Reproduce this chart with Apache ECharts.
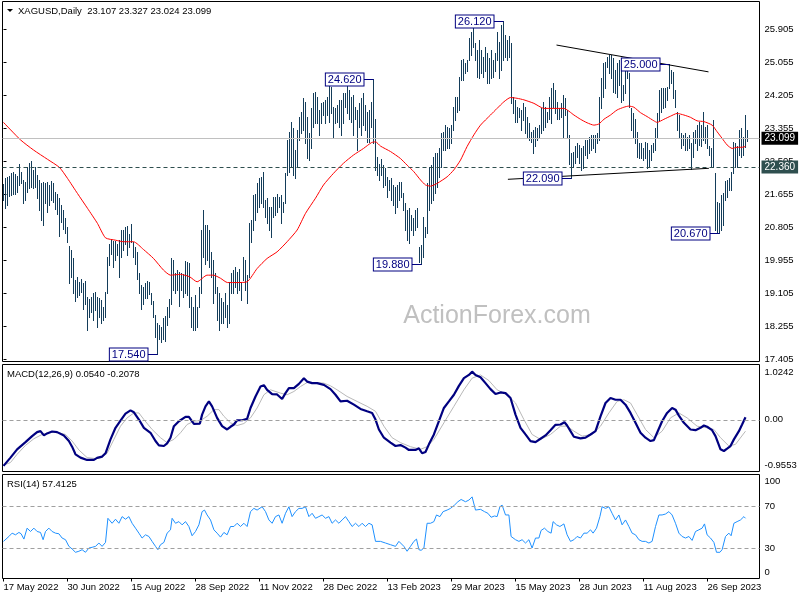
<!DOCTYPE html>
<html>
<head>
<meta charset="utf-8">
<title>XAGUSD Daily</title>
<script src="https://cdn.jsdelivr.net/npm/echarts@6/dist/echarts.min.js"></script>
<style>
  html, body { margin: 0; padding: 0; background: #fff; }
  #chart { width: 800px; height: 600px; }
</style>
</head>
<body>
<div id="chart"></div>
<script>
// daily bars, 17 May 2022 .. 23 Oct 2023 (bar index = position on the axis)
var highs = [
  21.92, 22.07, 22.10, 22.13, 22.20, 22.24, 22.18, 22.13, 22.44, 22.24,
  22.03, 21.98, 22.35, 22.46, 22.52, 22.28, 22.35, 22.16, 22.04, 21.96,
  21.98, 21.96, 21.98, 21.90, 22.01, 21.96, 21.73, 21.68, 21.56, 21.38,
  21.26, 21.04, 20.83, 20.33, 20.23, 20.01, 19.45, 19.52, 19.41, 19.47,
  19.37, 19.44, 19.03, 18.96, 19.03, 19.11, 19.15, 19.03, 18.98, 18.94,
  18.75, 19.15, 20.05, 20.38, 20.50, 20.47, 20.47, 20.38, 20.48, 20.74,
  20.74, 20.81, 20.84, 20.64, 20.89, 20.44, 20.31, 20.18, 19.64, 19.33,
  19.28, 19.37, 19.44, 19.41, 19.11, 18.92, 18.55, 18.34, 18.30, 18.25,
  18.47, 18.53, 18.77, 18.96, 20.01, 19.97, 19.64, 19.71, 19.67, 19.64,
  19.61, 19.95, 19.93, 19.90,
  19.03, 18.77, 19.07, 18.77, 19.28, 20.74, 21.26, 20.87, 20.87, 20.74,
  20.18, 19.97, 19.63, 19.28, 19.11, 18.98, 18.90, 19.11, 18.81, 19.41,
  19.63, 19.71, 19.80, 19.67, 19.75, 19.41, 20.06, 19.97, 19.58, 20.91,
  21.00, 21.64, 21.68, 21.94, 22.07, 22.11, 22.24, 21.51, 21.56, 21.34,
  21.34, 21.60, 21.60, 21.68, 21.60, 21.64, 21.47, 22.20, 23.06, 23.27,
  23.53, 23.36, 22.80, 23.31, 23.66, 23.79, 24.13, 24.04, 23.66, 23.23,
  23.87, 24.26, 24.30, 24.17, 23.83, 24.00, 24.04, 24.09, 24.17, 24.47,
  24.43, 23.91, 23.87, 23.96, 24.09, 24.09, 24.26, 24.26, 24.51, 24.34,
  24.17, 24.21, 23.91, 23.83, 24.00, 24.13, 24.26, 23.96, 23.79, 23.83,
  24.04, 24.62, 23.61, 22.63, 22.45,
  22.58, 22.41, 22.33, 22.11, 22.03, 22.07, 21.90, 21.86, 21.90, 21.98,
  21.98, 21.70, 21.43, 21.26, 21.30, 21.13, 21.04, 21.26, 21.30, 20.31,
  20.36, 21.08, 20.83, 21.94, 22.37, 22.41, 22.63, 22.71, 22.71, 22.84,
  23.23, 23.27, 23.44, 23.40, 23.36, 23.44, 23.91, 24.17, 24.17, 24.69,
  25.12, 25.13, 25.03, 25.12, 25.67, 25.84, 26.02, 25.54, 25.37, 25.63,
  25.37, 25.20, 25.46, 25.29, 25.16, 25.37, 25.12, 25.29, 25.84, 25.59,
  26.02, 26.12, 25.76, 25.63, 25.72, 25.54, 24.17, 24.09, 23.91, 23.87,
  23.83, 24.00, 23.91, 23.66, 23.49, 23.27, 23.31, 23.40, 23.36, 23.44,
  23.87, 24.04, 23.91, 23.79, 24.17, 24.39, 24.53, 24.34, 24.04, 23.87,
  24.00, 24.21, 24.13, 23.83, 23.19,
  22.71, 22.76, 22.89, 22.97, 22.93, 22.84, 22.89, 23.06, 23.06, 23.14,
  23.19, 23.19, 23.19, 23.23, 24.17, 24.64, 25.03, 25.07, 25.20, 25.24,
  25.24, 25.16, 24.86, 25.03, 25.11, 24.90, 24.47, 25.07, 25.03, 24.77,
  23.87, 23.74, 23.61, 23.27, 22.97, 22.97, 22.84, 23.01, 22.97, 22.80,
  22.93, 22.97, 23.36, 23.74, 24.34, 24.39, 24.39, 24.39, 24.43, 25.00,
  24.86, 24.81, 24.34, 23.79, 23.70, 23.23, 23.19, 23.23, 23.14, 23.19,
  22.97, 23.27, 23.31, 23.44, 23.53, 23.44, 23.79, 23.40, 23.44, 22.89,
  22.84, 23.57, 22.20, 21.47, 21.43, 21.64, 21.69, 21.99, 22.03, 22.07,
  22.24, 23.01, 22.97, 22.89, 23.31, 23.36, 23.14, 23.70, 23.327
];
var lows = [
  21.51, 21.30, 21.38, 21.62, 21.64, 21.68, 21.67, 21.73, 21.90, 21.96,
  21.43, 21.51, 21.73, 21.81, 21.86, 21.81, 21.86, 21.56, 21.26, 21.00,
  20.87, 21.43, 21.21, 21.38, 21.51, 21.47, 21.27, 21.15, 20.59, 20.95,
  20.78, 20.66, 20.44, 19.39, 19.54, 19.11, 18.92, 19.03, 19.07, 19.15,
  18.72, 18.85, 18.17, 18.51, 18.64, 18.43, 18.68, 18.24, 18.51, 18.34,
  18.43, 18.51, 19.11, 19.84, 20.12, 19.80, 19.97, 20.10, 19.54, 20.05,
  20.23, 20.38, 20.10, 20.31, 20.44, 20.05, 19.88, 19.47, 19.11, 18.72,
  18.85, 18.98, 18.98, 19.09, 18.85, 18.51, 18.00, 17.54, 17.93, 17.87,
  17.95, 17.89, 18.30, 18.51, 18.85, 19.20, 19.11, 19.20, 18.79, 19.20,
  19.03, 19.11, 19.07, 18.77,
  18.25, 18.17, 18.17, 18.25, 18.77, 19.11, 20.06, 19.88, 19.97, 19.80,
  19.54, 18.86, 19.11, 18.43, 18.17, 18.34, 18.34, 18.51, 18.25, 18.34,
  19.11, 19.11, 19.28, 19.11, 19.20, 18.94, 19.46, 19.20, 18.86, 19.54,
  20.44, 20.74, 21.00, 21.21, 21.34, 21.43, 21.34, 21.08, 20.91, 20.74,
  20.57, 21.08, 21.13, 21.21, 21.34, 20.91, 21.21, 21.43, 22.16, 22.24,
  22.37, 22.16, 22.07, 22.37, 23.06, 23.23, 23.31, 22.97, 22.59, 22.54,
  22.84, 23.40, 23.49, 23.49, 23.19, 23.49, 23.70, 23.49, 23.70, 23.53,
  23.74, 23.10, 23.49, 23.53, 23.40, 23.19, 23.49, 23.91, 23.74, 23.61,
  23.53, 23.19, 23.61, 22.80, 23.40, 23.19, 23.44, 23.31, 23.01, 23.01,
  23.40, 22.97, 22.29, 22.16, 22.03,
  22.16, 21.86, 21.90, 21.60, 21.77, 21.51, 21.39, 21.17, 21.34, 21.51,
  21.60, 21.26, 20.74, 20.48, 20.40, 20.74, 20.61, 20.74, 20.83, 19.93,
  19.88, 20.05, 20.57, 20.66, 21.26, 21.43, 21.51, 21.69, 21.86, 22.11,
  22.37, 22.80, 22.80, 22.84, 22.84, 22.97, 23.31, 23.57, 23.79, 23.83,
  24.60, 24.60, 24.77, 24.82, 25.12, 25.24, 25.46, 25.12, 24.69, 24.64,
  24.77, 24.69, 24.82, 24.52, 24.52, 24.64, 24.69, 24.82, 25.12, 24.64,
  24.86, 25.12, 25.20, 25.12, 25.20, 24.00, 23.74, 23.53, 23.53, 23.66,
  23.31, 23.57, 23.23, 23.10, 23.06, 23.01, 22.71, 22.89, 23.06, 23.14,
  23.23, 23.31, 23.40, 23.53, 23.61, 23.49, 23.91, 23.74, 23.61, 23.61,
  23.66, 23.14, 23.70, 23.10, 22.45,
  22.09, 22.37, 22.46, 22.63, 22.46, 22.29, 22.33, 22.67, 22.59, 22.71,
  22.80, 22.84, 22.76, 22.97, 23.06, 23.87, 24.17, 24.39, 24.94, 24.77,
  24.64, 24.30, 24.26, 24.17, 24.47, 24.04, 24.09, 24.26, 24.64, 23.91,
  23.31, 23.14, 22.97, 22.63, 22.59, 22.59, 22.54, 22.59, 22.33, 22.37,
  22.54, 22.76, 22.80, 23.14, 23.57, 23.79, 23.87, 23.91, 24.09, 24.39,
  24.52, 24.13, 23.91, 23.31, 23.14, 22.84, 22.93, 22.80, 22.80, 22.84,
  22.30, 22.63, 22.97, 22.80, 22.93, 22.89, 23.06, 22.97, 22.84, 22.67,
  22.37, 22.37, 20.74, 20.70, 20.67, 20.74, 20.87, 21.51, 21.60, 21.77,
  21.77, 22.20, 22.37, 22.37, 22.67, 22.63, 22.67, 22.88, 23.024
];
// last bar open / high / low / close
var lastBar = ['23.107', '23.327', '23.024', '23.099'];

// moving average [bar, value]
var maPts = [
  [0, 23.51], [8.5, 23.06], [15, 22.80], [22, 22.56], [28, 22.35], [32, 22.07], [37, 21.68],
  [42, 21.30], [47, 20.91], [51, 20.54], [56, 20.48], [60, 20.44], [65, 20.44], [70, 20.24],
  [75, 20.01], [80, 19.71], [83.5, 19.58], [88.5, 19.60], [93, 19.54], [96.8, 19.41],
  [101.8, 19.58], [105, 19.58], [108.5, 19.50], [112, 19.39], [116.8, 19.39], [121.8, 19.41],
  [126.8, 19.75], [131.8, 20.01], [136.8, 20.18], [141.8, 20.44], [146.8, 20.74], [151, 21.17],
  [156, 21.56], [160, 21.90], [165, 22.20], [170, 22.46], [175, 22.67], [180, 22.84],
  [184, 22.99], [186, 23.01], [188.5, 22.90], [193.5, 22.76], [198.5, 22.58], [201.8, 22.41],
  [205.2, 22.24], [208.5, 22.03], [211, 21.90], [213.5, 21.87], [216.8, 21.94], [221.8, 22.11],
  [225.2, 22.29], [228.5, 22.54], [231.8, 22.89], [235.2, 23.19], [238.5, 23.44], [243.5, 23.70],
  [246.8, 23.87], [250.2, 24.04], [253.5, 24.15], [256.8, 24.13], [260.2, 24.09], [265.2, 24.00],
  [270.2, 23.87], [275.2, 23.87], [280.2, 23.87], [285.2, 23.70], [288.5, 23.59], [291.8, 23.50],
  [295.2, 23.44], [297.7, 23.47], [300.2, 23.59], [303.5, 23.70], [306.8, 23.83], [310.2, 23.90],
  [312.7, 23.93], [315.2, 23.90], [318.5, 23.76], [321.8, 23.66], [325.2, 23.55], [326.8, 23.51],
  [330.2, 23.59], [333.5, 23.67], [336.8, 23.74], [340.2, 23.70], [343.5, 23.64], [346.8, 23.55],
  [350.2, 23.53], [354.3, 23.44], [356.8, 23.27], [359.3, 23.10], [361.8, 22.93], [364.3, 22.84],
  [366.8, 22.87], [369.3, 22.87], [371, 22.89]
];

// MACD(12,26,9): main and signal [bar, value]
var macdMain = [
  [0, -0.851], [3.5, -0.698], [6.8, -0.545], [11, -0.411], [14.3, -0.301], [16.8, -0.227],
  [18.5, -0.209], [20.2, -0.288], [21.8, -0.251], [24.3, -0.215], [26.8, -0.227], [30.2, -0.288],
  [32.7, -0.392], [34.3, -0.496], [36, -0.637], [38.5, -0.698], [41.8, -0.741], [45.2, -0.741],
  [46.8, -0.704], [49.3, -0.679], [51, -0.618], [53.5, -0.361], [56, -0.147], [58.5, -0.013],
  [61, 0.116], [63.5, 0.176], [65.2, 0.140], [67.7, 0.006], [70.2, -0.147], [73.5, -0.239],
  [76, -0.392], [77.7, -0.472], [80.2, -0.484], [81.8, -0.435], [83.5, -0.330], [85.2, -0.117],
  [87.7, -0.025], [91, 0.055], [92.7, 0.055], [95.2, -0.073], [98.2, -0.068], [99.3, 0.097],
  [101, 0.250], [102.7, 0.341], [104.3, 0.250], [106.8, 0.037], [109.3, -0.117], [111.8, -0.178],
  [113.5, -0.128], [115.2, -0.086], [116.8, -0.007], [119.3, -0.007], [121.8, 0.018], [123.5, 0.220],
  [126, 0.433], [128.5, 0.617], [130.2, 0.642], [131.8, 0.556], [134.3, 0.477], [136.8, 0.470],
  [139.3, 0.385], [141, 0.495], [142.7, 0.587], [145.2, 0.587], [147.7, 0.666], [150.2, 0.771],
  [151.8, 0.708], [154.3, 0.679], [156.8, 0.679], [160.2, 0.648], [163.5, 0.569], [166, 0.464],
  [168.5, 0.341], [171.8, 0.354], [175.2, 0.281], [178.5, 0.202], [181.8, 0.158], [184.3, 0.128],
  [186, 0.006], [187.7, -0.178], [190.2, -0.330], [193.5, -0.422], [196, -0.484], [198.5, -0.466],
  [201, -0.514], [202.7, -0.557], [206, -0.557], [207.7, -0.527], [209.3, -0.618], [211, -0.594],
  [212.7, -0.453], [215.2, -0.270], [217.7, -0.025], [220.2, 0.220], [222.7, 0.341], [225.2, 0.464],
  [227.7, 0.629], [230.2, 0.771], [232.7, 0.831], [234.3, 0.892], [236, 0.831], [238.5, 0.789],
  [241, 0.679], [243.5, 0.569], [246, 0.477], [248.5, 0.507], [251, 0.495], [253.5, 0.404],
  [256, 0.097], [258.5, -0.147], [261, -0.270], [263.5, -0.392], [266, -0.411], [268.5, -0.349],
  [271, -0.288], [273.5, -0.191], [276, -0.092], [278.5, -0.086], [280.5, -0.044], [281.8, -0.105],
  [283.5, -0.209], [285.2, -0.312], [288.5, -0.343], [291, -0.330], [293.5, -0.270], [296, -0.209],
  [298.5, 0.066], [301, 0.312], [303.5, 0.404], [306, 0.372], [308.5, 0.372], [311, 0.281],
  [313.5, 0.128], [316, -0.055], [318.5, -0.239], [321, -0.330], [323.5, -0.392], [325.2, -0.374],
  [326.8, -0.239], [329.3, -0.025], [331.8, 0.128], [334.3, 0.220], [336, 0.189], [337.7, 0.079],
  [340.2, -0.055], [343.5, -0.178], [346, -0.191], [348.5, -0.147], [350.2, -0.105], [351.8, -0.128],
  [354.3, -0.191], [356, -0.301], [358.5, -0.545], [360.2, -0.576], [361.8, -0.532], [363.5, -0.484],
  [365.2, -0.361], [367.7, -0.209], [369.3, -0.086], [371, 0.048]
];
var macdSignal = [
  [0, -0.839], [3.5, -0.789], [6.8, -0.637], [11, -0.472], [15.2, -0.349], [19.3, -0.270],
  [23.5, -0.227], [27.7, -0.239], [31, -0.270], [34.3, -0.392], [37.7, -0.557], [41.8, -0.698],
  [46, -0.716], [49.3, -0.698], [51.8, -0.618], [55.2, -0.361], [58.5, -0.117], [61.8, 0.037],
  [65.2, 0.128], [67.7, 0.128], [70.2, 0.006], [74.3, -0.178], [78.5, -0.330], [81.8, -0.422],
  [85.2, -0.361], [88.5, -0.239], [91.8, -0.086], [95.2, -0.025], [98.5, -0.013], [101.8, 0.066],
  [105.2, 0.189], [107.7, 0.189], [110.2, 0.066], [113.5, -0.055], [116.8, -0.105], [120.2, -0.068],
  [123.5, 0.037], [126.8, 0.220], [130.2, 0.464], [133.5, 0.556], [138.5, 0.495], [141.8, 0.464],
  [145.2, 0.525], [148.5, 0.617], [151.8, 0.690], [156, 0.690], [160.2, 0.679], [163.5, 0.630],
  [166.8, 0.556], [171.8, 0.433], [176.8, 0.341], [181.8, 0.250], [186, 0.158], [190.2, -0.117],
  [194.3, -0.330], [198.5, -0.422], [203.5, -0.496], [208.5, -0.545], [211.8, -0.496], [215.2, -0.361],
  [220.2, -0.055], [225.2, 0.250], [230.2, 0.556], [234.3, 0.771], [238.5, 0.831], [242.7, 0.727],
  [246.8, 0.556], [251.8, 0.464], [256, 0.312], [260.2, 0.006], [264.3, -0.270], [268.5, -0.361],
  [273.5, -0.270], [278.5, -0.117], [281.8, -0.117], [285.2, -0.209], [289.3, -0.301], [294.3, -0.270],
  [298.5, -0.117], [302.7, 0.128], [306.8, 0.341], [310.2, 0.372], [313.5, 0.312], [316.8, 0.097],
  [321, -0.178], [325.2, -0.330], [329.3, -0.209], [333.5, 0.037], [337.7, 0.128], [341.8, 0.037],
  [346.8, -0.117], [351.8, -0.147], [355.2, -0.178], [358.5, -0.330], [362.7, -0.484], [366, -0.453],
  [371, -0.209]
];

// RSI(14) [bar, value]
var rsiPts = [
  [0, 36.7], [1, 35.1], [2.7, 41.4], [4.3, 44.6], [6, 43.0], [7.7, 45.3], [8.8, 44.0], [10.2, 38.9],
  [11.8, 49.4], [13.5, 46.2], [15.2, 49.4], [16.8, 46.2], [18.5, 45.3], [19.8, 38.3], [21, 46.2],
  [22.7, 49.4], [24.3, 46.2], [26, 44.6], [27.7, 44.0], [29.3, 39.9], [31, 38.3], [32.7, 31.9],
  [34.3, 29.4], [36, 26.2], [37.7, 27.2], [39.3, 28.7], [41, 26.2], [42.7, 30.3], [44.3, 31.0],
  [46, 31.9], [47.7, 35.1], [49.3, 31.9], [51, 35.7], [52.2, 58.9], [54.3, 54.1], [56, 58.0],
  [57.7, 54.1], [59.3, 60.5], [61, 58.0], [62.7, 60.5], [64.3, 54.1], [66, 49.4], [67.7, 44.6],
  [69.3, 39.9], [71, 43.0], [72.7, 41.4], [74.3, 36.7], [76, 31.9], [77.2, 28.7], [78.5, 33.5],
  [80.2, 35.7], [81.8, 44.6], [83.5, 47.8], [84.3, 58.9], [86, 54.1], [87.7, 55.7], [89.3, 52.6],
  [91, 55.7], [92.7, 51.0], [94.3, 42.1], [96, 46.2], [97.7, 52.6], [99.3, 65.3], [100.5, 66.8],
  [101.8, 62.1], [103.5, 57.3], [105.2, 47.8], [106.8, 44.6], [108.5, 40.8], [110.2, 45.3],
  [111.8, 43.0], [113.5, 51.0], [115.2, 51.0], [116.8, 54.1], [118.5, 51.0], [120.2, 54.1],
  [121.8, 51.0], [123.5, 65.3], [125.2, 68.4], [126.8, 66.8], [129.3, 70.0], [131, 65.3],
  [132.7, 57.3], [134.3, 54.1], [136, 60.5], [137.7, 62.1], [139.3, 54.1], [141, 63.7], [142.7, 70.0],
  [144.3, 60.5], [146, 65.3], [147.7, 68.4], [149.3, 68.4], [151, 70.0], [152.7, 60.5], [154.3, 63.7],
  [156, 58.9], [157.7, 60.5], [159.3, 62.1], [161, 58.9], [162.7, 60.5], [164.3, 54.1], [166, 57.3],
  [167.7, 54.1], [169.3, 57.3], [171, 60.5], [172.7, 55.7], [174.3, 51.0], [176, 54.1], [177.7, 51.0],
  [179.3, 54.1], [181, 51.0], [182.7, 54.1], [184.3, 52.6], [186, 36.7], [188.5, 36.7], [191, 35.1],
  [193.5, 33.5], [196, 31.9], [197.7, 36.7], [198.5, 35.1], [200.2, 31.9], [201.8, 27.2], [203.5, 31.9],
  [205.2, 36.7], [206.5, 38.9], [207.7, 28.7], [208.8, 28.1], [210.2, 30.3], [211.8, 54.1],
  [213.5, 54.1], [215.2, 55.7], [216.5, 62.1], [218.2, 60.5], [219.8, 65.3], [221.8, 66.8],
  [223.5, 68.4], [225.5, 71.6], [227.2, 74.8], [228.8, 77.0], [231, 74.8], [232.7, 76.4], [234.3, 79.5],
  [236, 66.8], [238.5, 67.5], [240.5, 65.3], [242.2, 63.7], [243.8, 59.9], [245.5, 61.1], [246.8, 60.5],
  [248.2, 70.0], [249.3, 71.6], [251, 62.1], [252.7, 62.1], [253.8, 41.4], [256, 38.3], [257.7, 36.7],
  [259.3, 38.3], [261, 35.1], [262.7, 38.3], [264.3, 30.3], [266, 39.9], [267.7, 39.9], [268.8, 47.2],
  [270.5, 49.4], [272.2, 46.2], [273.8, 44.6], [274.8, 55.7], [276.5, 52.6], [278.2, 51.0],
  [280.2, 53.5], [281.8, 43.0], [283.5, 36.7], [285.2, 38.3], [286.8, 41.4], [288.5, 39.9],
  [290.2, 44.6], [291.8, 44.6], [293.5, 47.8], [294.8, 44.6], [296.5, 49.4], [298.2, 60.5],
  [299.3, 70.0], [301, 68.4], [302.7, 70.0], [304.3, 63.7], [306, 57.3], [307.7, 62.1], [309.3, 52.6],
  [311, 57.3], [312.7, 51.0], [314.3, 44.6], [316, 43.0], [317.7, 38.3], [319.3, 36.7], [321, 36.7],
  [322.7, 35.1], [324.3, 36.7], [326, 51.0], [327.7, 62.1], [329.3, 62.1], [331, 63.0], [332.7, 65.3],
  [334.3, 62.1], [336, 54.1], [337.7, 44.6], [339.3, 41.4], [341, 39.9], [342.7, 41.4], [344.3, 37.6],
  [346, 46.2], [347.7, 47.8], [349.3, 49.4], [350.5, 53.5], [351.8, 43.0], [353.5, 39.9], [355.2, 35.7],
  [356.5, 26.2], [358.2, 26.2], [359.3, 28.7], [361, 41.4], [362.7, 44.6], [363.8, 42.1], [365.2, 54.1],
  [366.8, 55.7], [368.5, 57.3], [370.2, 60.5], [371, 58.9]
];

var dateIdx = [0, 32, 64, 96, 128, 160, 192, 224, 256, 288, 320, 352];
var dateLabels = ['17 May 2022', '30 Jun 2022', '15 Aug 2022', '28 Sep 2022', '11 Nov 2022', '28 Dec 2022',
  '13 Feb 2023', '29 Mar 2023', '15 May 2023', '28 Jun 2023', '11 Aug 2023', '26 Sep 2023'];
var priceTicks = [17.405, 18.255, 19.105, 19.955, 20.805, 21.655, 22.505, 23.355, 24.205, 25.055, 25.905];
var lastClose = 23.099;
var levelPrice = 22.360;
var macdMax = 1.0242, macdMin = -0.9553;
var rsiLevels = [70, 30];

// swing labels: bar, price
var annIdx = [77, 209, 185, 250, 284, 333, 358];
var annPrice = [17.540, 19.880, 24.620, 26.120, 22.090, 25.000, 20.670];
// trend lines: [bar, price] pairs
var trendUpper = [[276.5, 25.50], [352.5, 24.81]];
var trendLower = [[252.2, 22.046], [352.7, 22.329]];

var FONT = 'Liberation Sans';
var barColor = '#143d5a';

var chart = echarts.init(document.getElementById('chart'));

var bars = highs.map(function (h, i) { return [i, h, lows[i]]; });

function gridBox(top, height) {
  return { left: 2.5, top: top, width: 757, height: height, show: true, borderColor: '#000', borderWidth: 1 };
}

var xAxes = [0, 1, 2].map(function (g) {
  return {
    type: 'value', gridIndex: g, min: -0.5, max: 378,
    axisLine: { show: false }, splitLine: { show: false },
    axisTick: { show: g === 2, length: 3, lineStyle: { color: '#000' }, customValues: dateIdx },
    axisLabel: {
      show: g === 2, customValues: dateIdx, align: 'left', margin: 4,
      fontFamily: FONT, fontSize: 9.5, color: '#000',
      formatter: function (v) { return dateLabels[dateIdx.indexOf(v)] || ''; }
    }
  };
});

var labelStyle = { fontFamily: FONT, fontSize: 9.5, color: '#000', margin: 5 };

var option = {
  animation: false,
  textStyle: { fontFamily: FONT },
  grid: [gridBox(1.5, 360), gridBox(364.5, 107), gridBox(474.5, 104)],
  xAxis: xAxes,
  yAxis: [
    {
      type: 'value', gridIndex: 0, position: 'right', min: 17.359, max: 26.620,
      axisLine: { show: false }, splitLine: { show: false },
      axisTick: { show: true, length: 3, lineStyle: { color: '#000' }, customValues: priceTicks },
      axisLabel: Object.assign({ customValues: priceTicks, formatter: function (v) { return v.toFixed(3); } }, labelStyle)
    },
    {
      type: 'value', gridIndex: 1, position: 'right', min: macdMin, max: macdMax,
      axisLine: { show: false }, splitLine: { show: false }, axisTick: { show: false },
      // MT4 prints the window max/min just inside the edges
      axisLabel: Object.assign({
        customValues: [0.885, 0, -0.845],
        formatter: function (v) { return v > 0.5 ? macdMax.toFixed(4) : (v < -0.5 ? macdMin.toFixed(4) : '0.00'); }
      }, labelStyle)
    },
    {
      type: 'value', gridIndex: 2, position: 'right', min: 1, max: 101,
      axisLine: { show: false }, splitLine: { show: false }, axisTick: { show: false },
      axisLabel: Object.assign({
        customValues: [94, 70, 30, 7],
        formatter: function (v) { return v > 90 ? '100' : (v < 10 ? '0' : String(v)); }
      }, labelStyle)
    }
  ],
  series: [
    {
      type: 'custom', name: 'XAGUSD', xAxisIndex: 0, yAxisIndex: 0, clip: true,
      data: bars,
      encode: { x: 0, y: [1, 2] },
      renderItem: function (params, api) {
        var top = api.coord([api.value(0), api.value(1)]);
        var bot = api.coord([api.value(0), api.value(2)]);
        var x = Math.floor(top[0]) + 0.5;
        return {
          type: 'line',
          shape: { x1: x, y1: Math.round(top[1]), x2: x, y2: Math.round(bot[1]) + 1 },
          style: { stroke: barColor, lineWidth: 1 }
        };
      },
      markLine: {
        silent: true, symbol: 'none', animation: false,
        data: [
          {
            yAxis: lastClose,
            lineStyle: { color: '#c0c0c0', type: 'solid', width: 1 },
            label: { show: true, position: 'end', distance: 2, formatter: lastClose.toFixed(3), color: '#fff',
              backgroundColor: '#000', padding: [2, 3, 1, 3], fontFamily: FONT, fontSize: 10 }
          },
          {
            yAxis: levelPrice,
            lineStyle: { color: '#2f4f4f', type: [4, 3], width: 1 },
            label: { show: true, position: 'end', distance: 2, formatter: levelPrice.toFixed(3), color: '#fff',
              backgroundColor: '#2f4f4f', padding: [2, 3, 1, 3], fontFamily: FONT, fontSize: 10 }
          },
          [
            { coord: trendUpper[0], lineStyle: { color: '#000', type: 'solid', width: 1 }, label: { show: false } },
            { coord: trendUpper[1] }
          ],
          [
            { coord: trendLower[0], lineStyle: { color: '#000', type: 'solid', width: 1 }, label: { show: false } },
            { coord: trendLower[1] }
          ]
        ]
      }
    },
    {
      type: 'line', name: 'MA', xAxisIndex: 0, yAxisIndex: 0, data: maPts,
      showSymbol: false, smooth: 0.2, lineStyle: { color: '#ff0000', width: 1 }, z: 3
    },
    {
      type: 'line', name: 'MACD', xAxisIndex: 1, yAxisIndex: 1, data: macdMain,
      showSymbol: false, lineStyle: { color: '#000080', width: 2.2 }, z: 3,
      markLine: {
        silent: true, symbol: 'none', label: { show: false },
        lineStyle: { color: '#a0a0a0', type: [4, 3], width: 1 },
        data: [{ yAxis: 0 }]
      }
    },
    {
      type: 'line', name: 'Signal', xAxisIndex: 1, yAxisIndex: 1, data: macdSignal,
      showSymbol: false, lineStyle: { color: '#b8b8b8', width: 1 }, z: 2
    },
    {
      type: 'line', name: 'RSI', xAxisIndex: 2, yAxisIndex: 2, data: rsiPts,
      showSymbol: false, lineStyle: { color: '#1e90ff', width: 1 },
      markLine: {
        silent: true, symbol: 'none', label: { show: false },
        lineStyle: { color: '#a0a0a0', type: [4, 3], width: 1 },
        data: rsiLevels.map(function (v) { return { yAxis: v }; })
      }
    }
  ]
};

chart.setOption(option);

// texts and swing labels on top of the plot
var elements = [
  { type: 'polygon', shape: { points: [[7, 9], [13, 9], [10, 12]] }, style: { fill: '#000' } },
  { type: 'text', x: 18, y: 11, style: { text: 'XAGUSD,Daily  ' + lastBar.join(' '), fill: '#000',
      font: '9.5px ' + FONT, verticalAlign: 'middle' } },
  { type: 'text', x: 7, y: 374, style: { text: 'MACD(12,26,9) 0.0540 -0.2078', fill: '#000',
      font: '9.5px ' + FONT, verticalAlign: 'middle' } },
  { type: 'text', x: 7, y: 484, style: { text: 'RSI(14) 57.4125', fill: '#000',
      font: '9.5px ' + FONT, verticalAlign: 'middle' } },
  { type: 'text', x: 497, y: 316, z: 0, style: { text: 'ActionForex.com', fill: '#c0c0c0',
      font: '25px ' + FONT, align: 'center', verticalAlign: 'middle' } }
];

annIdx.forEach(function (idx, k) {
  var price = annPrice[k];
  var p = chart.convertToPixel({ xAxisIndex: 0, yAxisIndex: 0 }, [idx, price]);
  var bx = Math.floor(p[0]) + 0.5;
  var by = Math.round(p[1]) + 0.5;
  elements.push({ type: 'line', z: 10, shape: { x1: bx - 10, y1: by, x2: bx, y2: by },
    style: { stroke: '#000080', lineWidth: 1 } });
  elements.push({ type: 'text', z: 11, x: bx - 10, y: by, style: {
    text: price.toFixed(3), fill: '#000080', font: '11px ' + FONT, align: 'right', verticalAlign: 'middle',
    backgroundColor: '#fff', borderColor: '#000080', borderWidth: 1, padding: [1, 2, 0, 2]
  } });
});

chart.setOption({ graphic: { elements: elements } });
</script>
</body>
</html>
